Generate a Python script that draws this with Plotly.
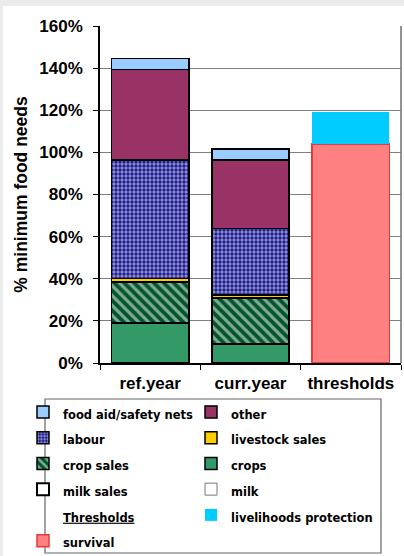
import plotly.graph_objects as go

categories = ["ref.year", "curr.year", "thresholds"]

# values as fraction of minimum food needs
milk = [0, 0, None]
milk_sales = [0, 0, None]
crops = [0.19, 0.09, None]
crop_sales = [0.195, 0.218, None]
livestock_sales = [0.016, 0.016, None]
labour = [0.562, 0.314, None]
other = [0.431, 0.327, None]
food_aid = [0.051, 0.051, None]
survival = [None, None, 1.04]
livelihoods = [None, None, 0.154]

y_ticks = [0, 0.2, 0.4, 0.6, 0.8, 1.0, 1.2, 1.4, 1.6]

W, H = 404, 556
L, R, T, B = 100, 3, 26, 193
PW, PH = W - L - R, H - T - B


def px_x(x):
    return (x - L) / PW


def px_y(y):
    return (H - B - y) / PH


def lab(s):
    return '<span style="font-size:11.5px">' + s + "</span>"


fig = go.Figure()
BW = 0.77
line_blk = dict(color="black", width=1.5)


def add_bar(name, vals, rank, color, line=line_blk, pattern=None, leg="legend"):
    m = dict(color=color, line=line)
    if pattern:
        m["pattern"] = pattern
    fig.add_trace(go.Bar(x=categories, y=vals, name=lab(name), marker=m,
                         width=BW, legendrank=rank, legend=leg, hoverinfo="skip"))


add_bar("milk", milk, 4, "white", dict(color="#777777", width=1), leg="legend2")
add_bar("milk sales", milk_sales, 4, "white", dict(color="black", width=2))
add_bar("crops", crops, 3, "#339966", leg="legend2")
add_bar("crop sales", crop_sales, 3, "#00552A",
        pattern=dict(shape="\\", fgcolor="white", bgcolor="#00552A", size=7, solidity=0.45))
add_bar("livestock sales", livestock_sales, 2, "#FFCC00", leg="legend2")
add_bar("labour", labour, 2, "#14148E",
        pattern=dict(shape=".", fgcolor="white", bgcolor="#14148E", size=4, solidity=0.55))
add_bar("other", other, 1, "#993366", leg="legend2")
add_bar("food aid/safety nets", food_aid, 1, "#99CCFF")

fig.add_trace(go.Scatter(x=[None], y=[None], mode="markers", name=lab("<u>Thresholds</u>"),
                         marker=dict(color="rgba(0,0,0,0)", size=1), legendrank=5,
                         hoverinfo="skip"))
add_bar("survival", survival, 6, "#FF8080", dict(color="#E8383B", width=1.5))
add_bar("livelihoods protection", livelihoods, 5, "#00CCFF", dict(color="#00CCFF", width=0),
        leg="legend2")

leg_font = dict(family="DejaVu Sans", size=17.5, weight="bold", color="black")
leg_common = dict(orientation="v", traceorder="normal", xanchor="left", yanchor="top",
                  y=px_y(394), font=leg_font, bgcolor="rgba(0,0,0,0)", borderwidth=0,
                  itemclick=False, itemdoubleclick=False)

fig.update_layout(
    width=W, height=H,
    margin=dict(l=L, r=R, t=T, b=B, autoexpand=False),
    barmode="stack",
    paper_bgcolor="#EBEBEB",
    plot_bgcolor="rgba(0,0,0,0)",
    font=dict(family="Liberation Sans, Arial", color="black"),
    showlegend=True,
    legend=dict(x=px_x(23), **leg_common),
    legend2=dict(x=px_x(191), **leg_common),
    xaxis=dict(
        type="category", showline=True, linecolor="black", linewidth=1.5,
        ticks="outside", tickson="boundaries", ticklen=5, tickcolor="black",
        tickfont=dict(size=17, weight="bold"), showgrid=False, ticklabelstandoff=4,
    ),
    yaxis=dict(
        range=[0, 1.6], tickvals=y_ticks, tickformat=".0%",
        showline=True, linecolor="black", linewidth=1.5,
        ticks="outside", ticklen=5, tickcolor="black",
        showgrid=True, gridcolor="#7F7F7F", gridwidth=1.2,
        tickfont=dict(size=17, weight="bold"), ticklabelstandoff=7,
        title=dict(text="% minimum food needs", font=dict(size=17.5, weight="bold"), standoff=7),
        zeroline=False,
    ),
    shapes=[
        dict(type="rect", xref="paper", yref="paper", layer="below",
             x0=px_x(3), x1=px_x(410), y0=px_y(560), y1=px_y(6),
             fillcolor="white", line=dict(width=0)),
        dict(type="line", xref="paper", yref="paper", x0=1, x1=1, y0=0, y1=1,
             line=dict(color="#6F6F6F", width=1.5)),
        dict(type="rect", xref="paper", yref="paper",
             x0=px_x(45), x1=px_x(381), y0=px_y(553), y1=px_y(399),
             line=dict(color="#666666", width=1.2), fillcolor="rgba(0,0,0,0)"),
    ],
)

fig.write_html("out.html", config={"displayModeBar": False},
               post_script="document.body.style.margin='0px';document.body.style.overflow='hidden';")
